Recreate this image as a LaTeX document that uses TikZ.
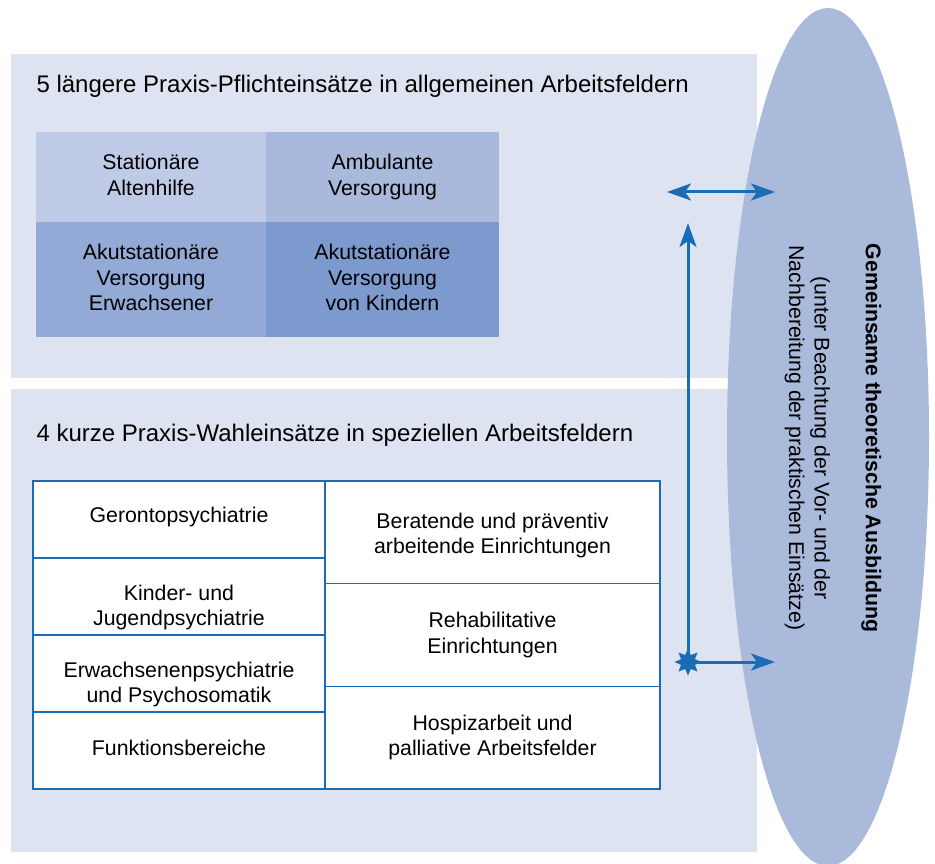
\documentclass[tikz,border=0pt]{standalone}
\usepackage{fontspec}
\setmainfont{Liberation Sans}
\usetikzlibrary{shapes.geometric,arrows.meta}
\definecolor{panelbg}{RGB}{221,227,241}
\definecolor{ellcol}{RGB}{170,186,219}
\definecolor{cellA}{RGB}{191,203,230}
\definecolor{cellB}{RGB}{169,185,220}
\definecolor{cellC}{RGB}{147,169,214}
\definecolor{cellD}{RGB}{125,154,207}
\definecolor{lineblue}{RGB}{27,108,183}
\tikzset{bluetip/.tip={Stealth[length=24pt,width=17pt,inset=6pt]}}
\begin{document}
\begin{tikzpicture}[x=1pt,y=-1pt,
  font=\fontsize{21.3}{25.5}\selectfont,
  titletext/.style={anchor=base west,font=\fontsize{24}{28}\selectfont},
  gridcell/.style={inner sep=0pt,outer sep=0pt,align=center,text=black},
  tabcell/.style={draw=lineblue,line width=1.5pt,fill=white,inner sep=0pt,outer sep=0pt},
  celltext/.style={align=center,text=black,inner sep=0pt},
  arr/.style={draw=lineblue,line width=3pt}
]
\useasboundingbox (0,0) rectangle (935,864);
% panels
\fill[panelbg] (11,54) rectangle (757,378);
\fill[panelbg] (11,389) rectangle (757,852);
% titles
\node[titletext] (t1) at (33,93) {5 längere Praxis-Pflichteinsätze in allgemeinen Arbeitsfeldern};
\node[titletext] (t2) at (33,441) {4 kurze Praxis-Wahleinsätze in speziellen Arbeitsfeldern};
% upper grid
\node[gridcell,fill=cellA,minimum width=230pt,minimum height=90pt] (g1) at (151,177) {};
\node[gridcell,fill=cellB,minimum width=233pt,minimum height=90pt] (g2) at (382.5,177) {};
\node[gridcell,fill=cellC,minimum width=230pt,minimum height=115pt] (g3) at (151,279.5) {};
\node[gridcell,fill=cellD,minimum width=233pt,minimum height=115pt] (g4) at (382.5,279.5) {};
\node[celltext] (g1t) at ([yshift=2pt]g1.center) {Stationäre\\Altenhilfe};
\node[celltext] (g2t) at (g2.center) {Ambulante\\Versorgung};
\node[celltext] (g3t) at ([yshift=2pt]g3.center) {Akutstationäre\\Versorgung\\Erwachsener};
\node[celltext] (g4t) at ([yshift=2pt]g4.center) {Akutstationäre\\Versorgung\\von Kindern};
% lower table, left column
\node[tabcell,minimum width=292pt,minimum height=77pt] (l1) at (179,519.5) {};
\node[tabcell,minimum width=292pt,minimum height=77pt] (l2) at (179,596.5) {};
\node[tabcell,minimum width=292pt,minimum height=77pt] (l3) at (179,673.5) {};
\node[tabcell,minimum width=292pt,minimum height=77pt] (l4) at (179,750.5) {};
\node[celltext] (l1t) at ([yshift=3pt]l1.center) {Gerontopsychiatrie};
\node[celltext] (l2t) at ([yshift=-11pt]l2.center) {Kinder- und\\Jugendpsychiatrie};
\node[celltext] (l3t) at ([yshift=-11pt]l3.center) {Erwachsenenpsychiatrie\\und Psychosomatik};
\node[celltext] (l4t) at ([yshift=3pt]l4.center) {Funktionsbereiche};
% lower table, right column
\node[tabcell,minimum width=335pt,minimum height=102.7pt] (r1) at (492.5,532.3) {};
\node[tabcell,minimum width=335pt,minimum height=102.7pt] (r2) at (492.5,635) {};
\node[tabcell,minimum width=335pt,minimum height=102.7pt] (r3) at (492.5,737.7) {};
\node[celltext] (r1t) at ([yshift=-3pt]r1.center) {Beratende und präventiv\\arbeitende Einrichtungen};
\node[celltext] (r2t) at (r2.center) {Rehabilitative\\Einrichtungen};
\node[celltext] (r3t) at (r3.center) {Hospizarbeit und\\palliative Arbeitsfelder};
% ellipse
\node[ellipse,fill=ellcol,minimum width=202pt,minimum height=858pt,inner sep=0pt] (ell) at (828,437) {};
\node[rotate=-90,align=center] (ellt) at (833,438)
  {\textbf{Gemeinsame theoretische Ausbildung}\\[26pt]
   (unter Beachtung der Vor- und der\\
   Nachbereitung der praktischen Einsätze)};
% arrows
\coordinate (a1s) at (667,192);
\coordinate (a1e) at (775,192);
\draw[arr,{bluetip}-{bluetip}] (a1s) -- (a1e);
\node[star,star points=8,star point ratio=1.8,fill=lineblue,minimum size=27pt,inner sep=0pt] (st) at (688,662) {};
\coordinate (a2t) at (688,223);
\coordinate (a3e) at (775,662);
\draw[arr,-{bluetip}] (st.center) -- (a2t);
\draw[arr,-{bluetip}] (st.center) -- (a3e);
\end{tikzpicture}
\end{document}
